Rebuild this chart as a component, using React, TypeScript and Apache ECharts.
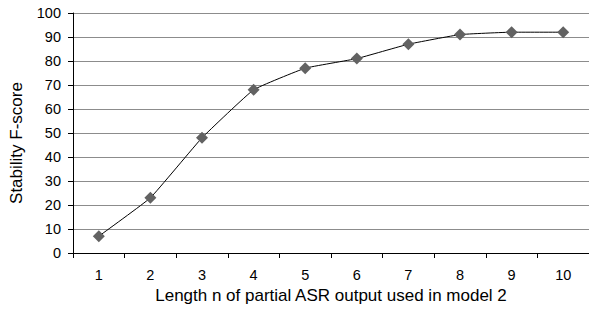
import React, { useEffect, useRef } from "react";
import * as echarts from "echarts";

const categories = ["1", "2", "3", "4", "5", "6", "7", "8", "9", "10"];
const fscore = [7, 23, 48, 68, 77, 81, 87, 91, 92, 92];

export default function App() {
  const ref = useRef<HTMLDivElement>(null);
  useEffect(() => {
    const chart = echarts.init(ref.current!, null, { renderer: "svg" });
    const font = "'Liberation Sans', Arial, sans-serif";
    chart.setOption({
      animation: false,
      backgroundColor: "#ffffff",
      grid: { left: 66, top: 13, right: -3, bottom: 54.5, containLabel: false },
      xAxis: {
        type: "category",
        data: categories,
        boundaryGap: true,
        name: "Length n of partial ASR output used in model 2",
        nameLocation: "middle",
        nameGap: 34,
        nameTextStyle: { fontFamily: font, fontSize: 17, color: "#000" },
        axisLine: { lineStyle: { color: "#000", width: 1 } },
        axisTick: { show: true, length: 5, lineStyle: { color: "#000" } },
        axisLabel: { fontFamily: font, fontSize: 14.5, color: "#000", margin: 14 },
        splitLine: { show: false },
      },
      yAxis: {
        type: "value",
        min: 0,
        max: 100,
        interval: 10,
        name: "Stability F-score",
        nameLocation: "middle",
        nameGap: 48,
        nameTextStyle: { fontFamily: font, fontSize: 17, color: "#000", padding: [0, 20, 0, 0] },
        axisLine: { show: true, lineStyle: { color: "#000", width: 1 } },
        axisTick: { show: true, length: 5, lineStyle: { color: "#000" } },
        axisLabel: { fontFamily: font, fontSize: 14.5, color: "#000", margin: 12 },
        splitLine: { show: true, lineStyle: { color: "#8c8c8c", width: 1 } },
      },
      series: [
        {
          type: "line",
          data: fscore,
          smooth: 0.1,
          symbol: "diamond",
          symbolSize: 12,
          itemStyle: { color: "#626262" },
          lineStyle: { color: "#000", width: 1 },
        },
      ],
    });
    return () => chart.dispose();
  }, []);
  return <div ref={ref} style={{ width: 589, height: 309, position: "absolute", left: 0, top: 0 }} />;
}
